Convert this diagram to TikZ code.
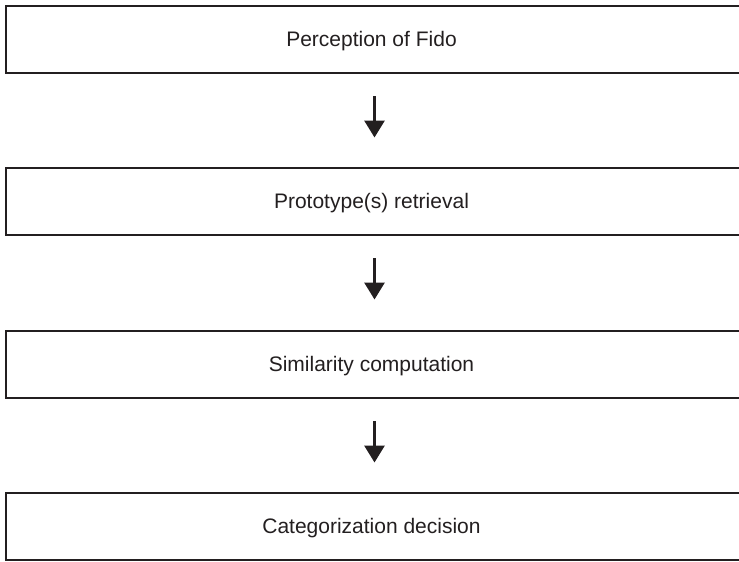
\documentclass[tikz,border=0pt]{standalone}
\usepackage{fontspec}
\setmainfont{Liberation Sans}
\usetikzlibrary{arrows.meta}
\definecolor{ink}{HTML}{231F20}
\tikzset{
  stage/.style={draw=ink, line width=2pt, minimum width=736pt, minimum height=67pt,
    inner sep=0pt, fill=white},
  stagetext/.style={text=ink, font=\fontsize{21}{25}\selectfont, inner sep=0pt,
    anchor=base},
  flow/.style={draw=ink, line width=3pt,
    -{Triangle[width=20pt,length=17pt]}, shorten <=23pt, shorten >=30.5pt}
}
\begin{document}
\begin{tikzpicture}[x=1pt,y=-1pt]
  \useasboundingbox (0,0) rectangle (739,562);
  \clip (0,0) rectangle (739,562);
  \fill[white] (0,0) rectangle (739,562);

  % process stages, top to bottom
  \node[stage] (s1) at (374,39.5) {};
  \node[stage] (s2) at (374,201.5) {};
  \node[stage] (s3) at (374,364) {};
  \node[stage] (s4) at (374,526) {};

  % stage names, baseline a little below the middle of each box
  \node[stagetext] (l1) at ([xshift=-2.5pt,yshift=-7.2pt]s1.center) {Perception of Fido};
  \node[stagetext] (l2) at ([xshift=-2.5pt,yshift=-7.2pt]s2.center) {Prototype(s) retrieval};
  \node[stagetext] (l3) at ([xshift=-2.5pt,yshift=-7.2pt]s3.center) {Similarity computation};
  \node[stagetext] (l4) at ([xshift=-2.5pt,yshift=-7.2pt]s4.center) {Categorization decision};

  % arrows between stages
  \coordinate (a1) at (374.5,73);  \coordinate (b1) at (374.5,168);
  \coordinate (a2) at (374.5,235); \coordinate (b2) at (374.5,330);
  \coordinate (a3) at (374.5,398); \coordinate (b3) at (374.5,493);
  \draw[flow] (a1) -- (b1);
  \draw[flow] (a2) -- (b2);
  \draw[flow] (a3) -- (b3);
\end{tikzpicture}
\end{document}
